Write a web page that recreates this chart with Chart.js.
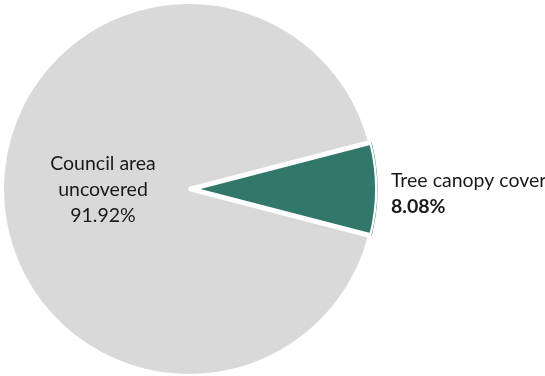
<!DOCTYPE html>
<html>
<head>
<meta charset="utf-8">
<script src="https://cdn.jsdelivr.net/npm/chart.js@4.4.1/dist/chart.umd.min.js"></script>
<style>
  html, body { margin: 0; padding: 0; background: #ffffff; }
  #wrap { width: 545px; height: 376px; position: relative; }
</style>
</head>
<body>
<div id="wrap"><canvas id="c"></canvas></div>
<script>
// ---- data ----
const categories = ["Tree canopy cover", "Council area uncovered"];
const labelLines = [["Tree canopy cover"], ["Council area", "uncovered"]];
const values = [8.08, 91.92];
const valueLabels = ["8.08%", "91.92%"];
const colors = ["#31786A", "#D9D9DA"];

const FONT = "Lato, 'Open Sans', sans-serif";

const labelPlugin = {
  id: 'sliceLabels',
  afterDatasetsDraw(chart) {
    const ctx = chart.ctx;
    const meta = chart.getDatasetMeta(0);
    ctx.save();
    ctx.fillStyle = '#1a1a1a';
    ctx.textBaseline = 'middle';
    meta.data.forEach((arc, i) => {
      const p = arc.getProps(['x', 'y', 'startAngle', 'endAngle', 'outerRadius'], true);
      const mid = (p.startAngle + p.endAngle) / 2;
      if (i === 1) {
        const r = p.outerRadius * 0.46;
        const cx = p.x + Math.cos(mid) * r;
        const cy = p.y + Math.sin(mid) * r + 1;
        ctx.textAlign = 'center';
        ctx.font = "19.5px " + FONT;
        const lines = labelLines[i].concat([valueLabels[i]]);
        const lh = 26;
        lines.forEach((t, k) => {
          ctx.fillText(t, cx, cy + (k - (lines.length - 1) / 2) * lh);
        });
      } else {
        const cx = p.x + Math.cos(mid) * (p.outerRadius + 15);
        const cy = p.y + Math.sin(mid) * (p.outerRadius + 15);
        ctx.textAlign = 'left';
        ctx.font = "19.5px " + FONT;
        ctx.fillText(labelLines[i][0], cx, cy - 8);
        ctx.font = "bold 19.5px " + FONT;
        ctx.fillText(valueLabels[i], cx, cy + 18);
      }
    });
    ctx.restore();
  }
};

const startDeg = 90 - values[0] / 100 * 360 / 2;

new Chart(document.getElementById('c'), {
  type: 'pie',
  data: {
    labels: categories,
    datasets: [{
      data: values,
      backgroundColor: colors,
      borderColor: '#ffffff',
      borderWidth: [2.5, 4],
      borderAlign: ['inner', 'center'],
      offset: [5, 0],
      radius: 187,
      rotation: startDeg
    }]
  },
  options: {
    responsive: true,
    maintainAspectRatio: false,
    animation: false,
    rotation: startDeg,
    layout: { padding: { left: 0, right: 167, top: 2, bottom: 0 } },
    plugins: {
      legend: { display: false },
      tooltip: { enabled: false }
    }
  },
  plugins: [labelPlugin]
});
</script>
</body>
</html>
